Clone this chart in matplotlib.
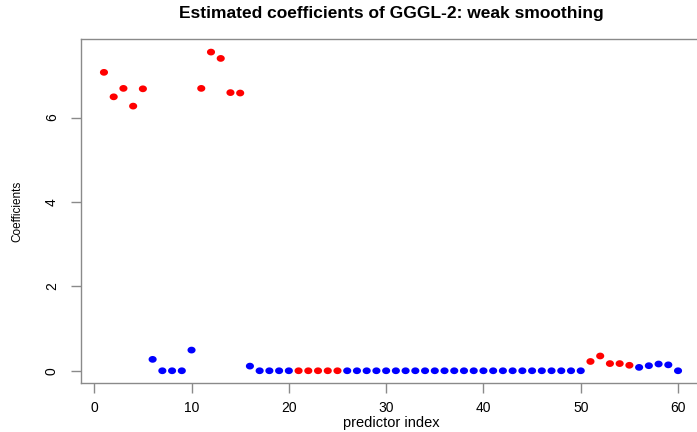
import matplotlib
matplotlib.use("Agg")
import matplotlib.pyplot as plt
from matplotlib.path import Path
import numpy as np

predictor_index = list(range(1, 61))
coefficients = [
    7.07, 6.49, 6.69, 6.27, 6.68,          # 1-5
    0.27, 0.0, 0.0, 0.0, 0.49,             # 6-10
    6.69, 7.55, 7.40, 6.59, 6.58,          # 11-15
    0.11, 0.0, 0.0, 0.0, 0.0,              # 16-20
    0.0, 0.0, 0.0, 0.0, 0.0,               # 21-25
    0.0, 0.0, 0.0, 0.0, 0.0,               # 26-30
    0.0, 0.0, 0.0, 0.0, 0.0,               # 31-35
    0.0, 0.0, 0.0, 0.0, 0.0,               # 36-40
    0.0, 0.0, 0.0, 0.0, 0.0,               # 41-45
    0.0, 0.0, 0.0, 0.0, 0.0,               # 46-50
    0.22, 0.35, 0.17, 0.17, 0.13,          # 51-55
    0.08, 0.12, 0.16, 0.14, 0.0,           # 56-60
]
groups = (["red"] * 5 + ["blue"] * 5 + ["red"] * 5 + ["blue"] * 5 + ["red"] * 5
          + ["blue"] * 25 + ["red"] * 5 + ["blue"] * 5)
point_colors = {"red": "#ff0000", "blue": "#0000ff"}

xticks = [0, 10, 20, 30, 40, 50, 60]
yticks = [0, 2, 4, 6]

plt.rcParams['font.family'] = ['Liberation Sans', 'DejaVu Sans']

fig = plt.figure(figsize=(6.97, 4.32), dpi=100)
ax = fig.add_axes([81/697, 1 - 383/432, (701 - 81)/697, (383 - 39)/432])

# slightly wide ellipse marker (reference dots are stretched horizontally)
t = np.linspace(0, 2 * np.pi, 41)
ell = Path(np.column_stack([1.2 * np.cos(t), np.sin(t)]), closed=True)

cols = [point_colors[g] for g in groups]
ax.scatter(predictor_index, coefficients, c=cols, s=34, marker=ell,
           edgecolors='none', zorder=3)

ax.set_xlim(-1.36, 62.36)
ax.set_ylim(-0.29, 7.86)
ax.set_xticks(xticks)
ax.set_yticks(yticks)
ax.set_yticklabels([str(t) for t in yticks], rotation=90, va='center')

for s in ax.spines.values():
    s.set_color('#8a8a8a')
    s.set_linewidth(1.0)
ax.tick_params(axis='both', direction='out', length=7, width=1.0, color='#8a8a8a',
               labelsize=10)
ax.tick_params(axis='x', pad=6)
ax.tick_params(axis='y', pad=9)

ax.set_title("Estimated coefficients of GGGL-2: weak smoothing",
             fontsize=12.5, fontweight='bold', pad=15)
ax.set_xlabel("predictor index", fontsize=10.5)
ax.xaxis.set_label_coords(0.5, (383 - 416) / 344)
ax.set_ylabel("Coefficients", fontsize=8.5)
ax.yaxis.set_label_coords((23 - 81) / 620, 0.5)

fig.savefig("out.png", dpi=100)
